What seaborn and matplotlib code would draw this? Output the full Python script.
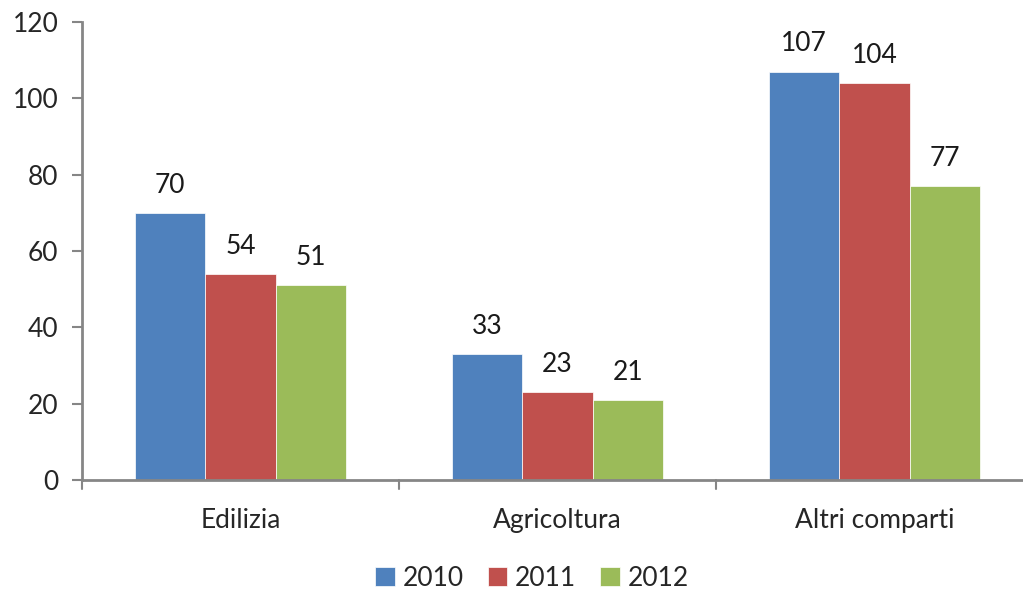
import numpy as np
import pandas as pd
import matplotlib
matplotlib.use("Agg")
import matplotlib.pyplot as plt
import seaborn as sns

# Data
categories = ["Edilizia", "Agricoltura", "Altri comparti"]
years = ["2010", "2011", "2012"]
values_2010 = [70, 33, 107]
values_2011 = [54, 23, 104]
values_2012 = [51, 21, 77]

COLORS = ["#4F81BD", "#C0504D", "#9BBB59"]
AXIS_GRAY = "#868686"
FS = 19

df = pd.DataFrame({
    "categoria": categories * 3,
    "anno": [y for y in years for _ in categories],
    "valore": values_2010 + values_2011 + values_2012,
})

sns.set_theme(style="white")
plt.rcParams["font.family"] = ["Lato", "DejaVu Sans"]

fig = plt.figure(figsize=(10.23, 5.95), dpi=100)
ax = fig.add_axes([82 / 1023, 1 - 480 / 595, (1023 - 82) / 1023, 458 / 595])

sns.barplot(data=df, x="categoria", y="valore", hue="anno",
            palette=COLORS, width=0.667, saturation=1, ax=ax,
            edgecolor="white", linewidth=0.5)

for container in ax.containers:
    ax.bar_label(container, padding=11, fontsize=FS, color="#1a1a1a")

ax.set_ylim(0, 120)
ax.set_yticks(range(0, 121, 20))
ax.set_xlim(-0.5, 2.5 - 10 / 317)
ax.set_xlabel("")
ax.set_ylabel("")

# category ticks at group boundaries, labels at group centres
ax.set_xticks([0, 1, 2])
ax.set_xticklabels(categories, fontsize=FS)
ax.tick_params(axis="x", length=0, pad=20)
for xb in [-0.5, 0.5, 1.5]:
    ax.plot([xb, xb], [0, -0.02], transform=ax.get_xaxis_transform(),
            color=AXIS_GRAY, lw=1.5, clip_on=False)

ax.tick_params(axis="y", left=True, length=7, width=1.5, color=AXIS_GRAY,
               labelsize=FS, pad=10)

for side in ["top", "right"]:
    ax.spines[side].set_visible(False)
for side in ["left", "bottom"]:
    ax.spines[side].set_color(AXIS_GRAY)
    ax.spines[side].set_linewidth(2)

ax.legend(loc="center", bbox_to_anchor=(0.5 - 41 / 941 / 2, -0.215), ncol=3,
          frameon=False, fontsize=FS, handlelength=0.75, handleheight=0.75,
          handletextpad=0.3, columnspacing=0.9)

fig.savefig("out.png", dpi=100)
